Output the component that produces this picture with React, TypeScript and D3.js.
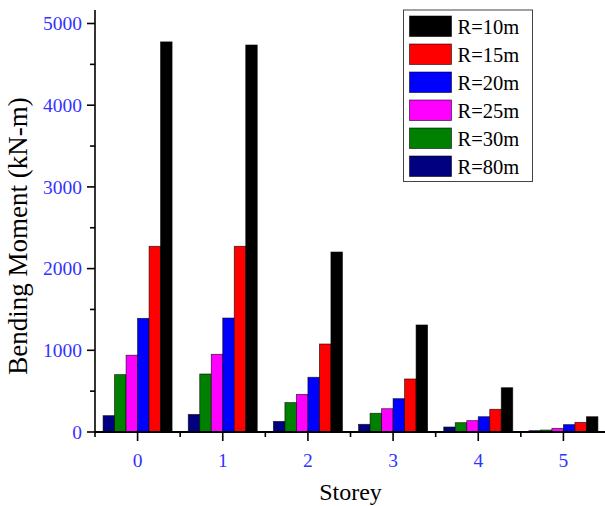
import React from "react";
import * as d3 from "d3";

const categories = ["0", "1", "2", "3", "4", "5"];
const seriesNames = ["R=80m", "R=30m", "R=25m", "R=20m", "R=15m", "R=10m"];
const seriesColors = ["#000080", "#008000", "#ff00ff", "#0000ff", "#ff0000", "#000000"];
const r80 = [200, 215, 130, 94, 61, 16];
const r30 = [702, 710, 360, 229, 114, 24];
const r25 = [940, 951, 460, 285, 139, 45];
const r20 = [1391, 1395, 670, 408, 187, 90];
const r15 = [2273, 2273, 1077, 649, 278, 118];
const r10 = [4775, 4737, 2203, 1310, 542, 187];
const seriesValues = [r80, r30, r25, r20, r15, r10];
const yTicks = [0, 1000, 2000, 3000, 4000, 5000];
const yMinorTicks = [500, 1500, 2500, 3500, 4500];
const legendOrder = [5, 4, 3, 2, 1, 0];

export default function App() {
  const W = 605, H = 506;
  const x0 = 95, x1 = 606, yBottom = 432;
  const font = "'Liberation Serif', 'Times New Roman', serif";
  const x = d3.scaleLinear().domain([-0.5, 5.5]).range([x0, x1]);
  const y = d3.scaleLinear().domain([0, 5000]).range([yBottom, 23.5]);
  const barW = 11.5;
  const n = seriesNames.length;
  const catIdx = categories.map((_, i) => i);
  const minorX = d3.range(0, 6).map((i) => i - 0.5);

  return (
    <svg width={W} height={H} style={{ position: "absolute", left: 0, top: 0 }} fontFamily={font}>
      <rect width={W} height={H} fill="#fff" />
      {seriesValues.map((vals, s) =>
        vals.map((v, i) => {
          const bx = x(i) - (n * barW) / 2 + s * barW;
          return (
            <rect
              key={`${s}-${i}`}
              x={bx}
              y={y(v)}
              width={barW}
              height={yBottom - y(v)}
              fill={seriesColors[s]}
              stroke="#000"
              strokeWidth={0.8}
              strokeOpacity={0.7}
            />
          );
        })
      )}
      {/* y axis */}
      <line x1={x0} x2={x0} y1={10} y2={yBottom + 1} stroke="#000" strokeWidth={1.6} />
      {yTicks.map((t) => (
        <g key={t}>
          <line x1={x0 - 8} x2={x0} y1={y(t)} y2={y(t)} stroke="#000" strokeWidth={1.6} />
          <text x={82} y={y(t)} dy="0.35em" textAnchor="end" fontSize={19.5} fill="#3333ff">
            {t}
          </text>
        </g>
      ))}
      {yMinorTicks.map((t) => (
        <line key={t} x1={x0 - 5} x2={x0} y1={y(t)} y2={y(t)} stroke="#000" strokeWidth={1.6} />
      ))}
      {/* x axis */}
      <line x1={x0} x2={x1} y1={yBottom} y2={yBottom} stroke="#000" strokeWidth={2} />
      {catIdx.map((i) => (
        <g key={i}>
          <line x1={x(i)} x2={x(i)} y1={yBottom} y2={yBottom + 9} stroke="#000" strokeWidth={1.6} />
          <text x={x(i)} y={467} textAnchor="middle" fontSize={19.5} fill="#3333ff">
            {categories[i]}
          </text>
        </g>
      ))}
      {minorX.map((t) => (
        <line key={t} x1={x(t)} x2={x(t)} y1={yBottom} y2={yBottom + 5} stroke="#000" strokeWidth={1.6} />
      ))}
      <text x={350.5} y={500} textAnchor="middle" fontSize={24} fill="#000">
        Storey
      </text>
      <text
        transform={`translate(27, 236) rotate(-90)`}
        textAnchor="middle"
        fontSize={27}
        fill="#000"
      >
        Bending Moment (kN-m)
      </text>
      {/* legend */}
      <rect x={403.5} y={10} width={129} height={171.5} fill="#fff" stroke="#444" strokeWidth={1} />
      {legendOrder.map((s, k) => (
        <g key={s}>
          <rect
            x={409.5}
            y={16 + k * 28}
            width={42}
            height={20.5}
            fill={seriesColors[s]}
            stroke="#000"
            strokeWidth={0.8}
            strokeOpacity={0.7}
          />
          <text x={457.5} y={26.5 + k * 28} dy="0.35em" fontSize={20.5} fill="#000">
            {seriesNames[s]}
          </text>
        </g>
      ))}
    </svg>
  );
}
